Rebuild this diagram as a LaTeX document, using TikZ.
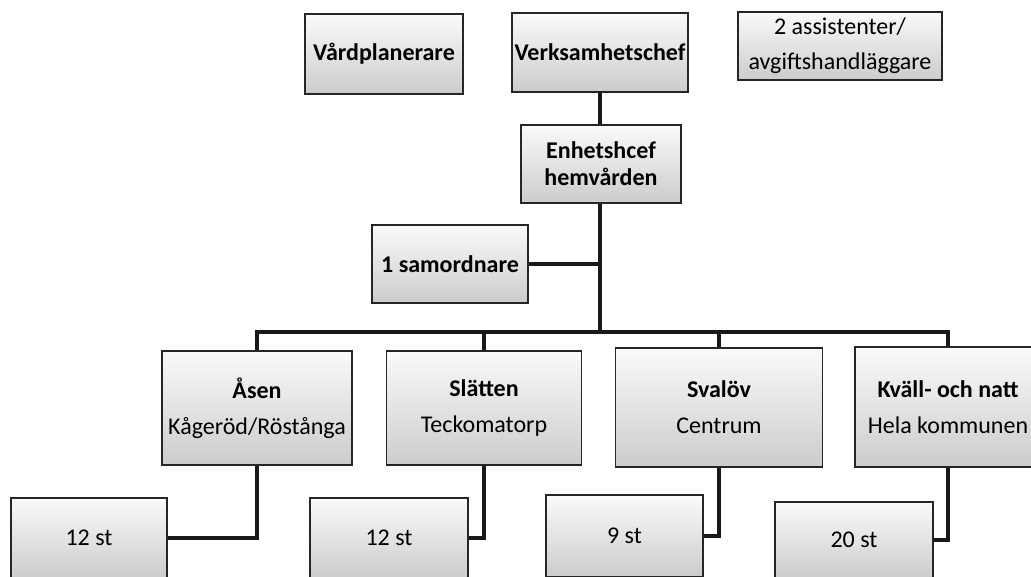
\documentclass[tikz,border=0pt]{standalone}
\usepackage{fontspec}
\setmainfont{Carlito}
\usepackage{tikz}
\usetikzlibrary{calc}
\begin{document}
\begin{tikzpicture}[x=1pt,y=-1pt,
  box/.style={draw=black!85,line width=1.5pt,top color=gray!4,bottom color=gray!40,
    align=center,inner sep=1pt,font=\fontsize{24}{27}\selectfont},
  unit/.style={box,font=\fontsize{24}{36}\selectfont},
  link/.style={line width=3.6pt,color=black!90}]
\useasboundingbox (0,0) rectangle (1031,577);
\clip (0,0) rectangle (1031,577);
\node[box,minimum width=158pt,minimum height=80pt] (vard) at (384,54) {\bfseries Vårdplanerare};
\node[box,minimum width=176pt,minimum height=79pt] (verk) at (600,52.5) {\bfseries Verksamhetschef};
\node[box,minimum width=204pt,minimum height=68pt,font=\fontsize{24}{35}\selectfont] (assist) at (840,46) {2 assistenter/\\avgiftshandläggare};
\node[box,minimum width=160pt,minimum height=78pt] (enh) at (601,164) {\bfseries Enhetshcef\\\bfseries hemvården};
\node[box,minimum width=156pt,minimum height=78pt] (samord) at (450,264) {\bfseries 1 samordnare};
\coordinate (bus) at (600,332);
\node[unit,minimum width=190pt,minimum height=114pt] (asen) at (257,408) {\bfseries Åsen\\Kågeröd/Röstånga};
\node[unit,minimum width=195pt,minimum height=114pt] (slatten) at (484,408) {\bfseries Slätten\\Teckomatorp};
\node[unit,minimum width=207pt,minimum height=119pt] (svalov) at (719,407.5) {\bfseries Svalöv\\Centrum};
\node[unit,minimum width=186pt,minimum height=120pt] (kvall) at (948,407) {\bfseries Kväll- och natt\\Hela kommunen};
\node[box,minimum width=156pt,minimum height=80pt] (asenst) at (89,538) {12 st};
\node[box,minimum width=158pt,minimum height=80pt] (slattenst) at (389,538) {12 st};
\node[box,minimum width=157pt,minimum height=82pt] (svalovst) at (624.5,536) {9 st};
\node[box,minimum width=158pt,minimum height=76pt] (kvallst) at (854,540) {20 st};
\draw[link] (verk.south) -- (verk.south |- enh.north);
\draw[link] (enh.south -| verk.south) -- (bus);
\draw[link] (samord.east) -- (samord.east -| bus);
\draw[link] (asen.north) |- (bus) -| (kvall.north);
\draw[link] (slatten.north) -- (slatten.north |- bus);
\draw[link] (svalov.north) -- (svalov.north |- bus);
\draw[link] (asen.south) |- (asenst.east);
\draw[link] (slatten.south) |- (slattenst.east);
\draw[link] (svalov.south) |- (svalovst.east);
\draw[link] (kvall.south) |- (kvallst.east);
\end{tikzpicture}
\end{document}
